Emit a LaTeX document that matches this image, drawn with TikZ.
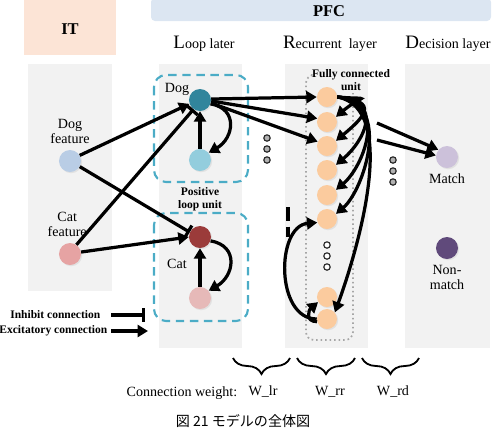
\documentclass[tikz,border=0pt]{standalone}
\usepackage{fontspec}
\setmainfont{Liberation Serif}
\newfontfamily\cjk{Noto Sans CJK JP}
\usetikzlibrary{arrows.meta, positioning, decorations.pathreplacing, shadows}

\definecolor{itpeach}{HTML}{FCE4D6}
\definecolor{pfcblue}{HTML}{DCE6F2}
\definecolor{panelgray}{HTML}{F2F2F2}
\definecolor{loopblue}{HTML}{4BACC6}
\definecolor{dogfeat}{HTML}{B9CDE5}
\definecolor{catfeat}{HTML}{E6A3A3}
\definecolor{dogdark}{HTML}{31859C}
\definecolor{doglight}{HTML}{93CDDD}
\definecolor{catdark}{HTML}{9B3B3A}
\definecolor{catlight}{HTML}{E6B9B8}
\definecolor{recpeach}{HTML}{FBCB9E}
\definecolor{matchc}{HTML}{CCC1DA}
\definecolor{nonmatchc}{HTML}{604A7B}

\begin{document}
\begin{tikzpicture}[
    x=0.025cm, y=0.025cm,
    font=\fontsize{10}{11}\selectfont,
    panel/.style={fill=panelgray, draw=none},
    loopbox/.style={draw=loopblue, line width=1.5pt, dash pattern=on 6pt off 4pt, rounded corners=3mm},
    unit/.style={circle, minimum size=5.5mm, inner sep=0pt, drop shadow={opacity=0.15, shadow xshift=0.3mm, shadow yshift=-0.3mm}},
    runit/.style={unit, minimum size=5mm, fill=recpeach},
    lbl/.style={align=center, inner sep=1pt},
    tag/.style={align=center, inner sep=1pt, font=\fontsize{8.2}{9}\selectfont\bfseries},
    title/.style={font=\fontsize{11.7}{13}\selectfont\bfseries},
    exc/.style={-{Triangle[length=2.6mm, width=3mm]}, line width=2.3pt},
    inh/.style={-{Bar[width=3.4mm]}, line width=2.3pt},
    dotf/.style={circle, draw=black!85, fill=gray!60, line width=0.8pt, inner sep=0pt, minimum size=1.6mm},
    doth/.style={circle, draw=black!85, fill=white, line width=0.8pt, inner sep=0pt, minimum size=1.6mm},
    wbrace/.style={decorate, decoration={brace, amplitude=4mm, mirror}, line width=1.3pt}
]
\useasboundingbox (0,0) rectangle (496,-430);

% Headers
\fill[itpeach] (24,0) rectangle (116,-55);
\node[title] (it) at (70,-29) {IT};
\fill[pfcblue, rounded corners=1mm] (151,2) rectangle (491,-21);
\node[title] (pfc) at (329,-11) {PFC};
\node (hloop) at (204,-44) {{\fontsize{13.5}{14}\selectfont L}oop later};
\node (hrec) at (330,-44) {{\fontsize{13.5}{14}\selectfont R}ecurrent\ \ layer};
\node (hdec) at (448,-44) {{\fontsize{13.5}{14}\selectfont D}ecision layer};

% Panels
\fill[panel] (28,-64) rectangle (112,-291);
\fill[panel] (159,-64) rectangle (242,-348);
\fill[panel] (285,-64) rectangle (368,-348);
\fill[panel] (405,-64) rectangle (490,-348);

% Loop units
\draw[loopbox] (154,-75) rectangle (248,-182);
\draw[loopbox] (154,-213) rectangle (248,-321);
\draw[gray!70, dotted, line width=1.2pt, rounded corners=2mm] (311,-75) -| (306,-340) -| (353,-93);

% IT units
\node[unit, fill=dogfeat] (df) at (70,-161) {};
\node[unit, fill=catfeat] (cf) at (70,-254) {};
\node[lbl, above=1mm of df] (dfl) {Dog\\feature};
\node[lbl, above=1mm of cf, xshift=-2] (cfl) {Cat\\feature};

% Loop layer
\node[unit, fill=dogdark] (dt) at (200,-100) {};
\node[unit, fill=doglight] (db) at (200,-160) {};
\node[unit, fill=catdark] (ct) at (200,-237) {};
\node[unit, fill=catlight] (cb) at (200,-298) {};
\node[lbl] (dogl) at (177,-89) {Dog};
\node[lbl] (catl) at (177,-264) {Cat};
\node[tag] (posl) at (200,-199) {Positive\\loop unit};

% Recurrent layer
\foreach \i/\y in {1/97, 2/122, 3/146, 4/170, 5/195, 6/219, 7/297, 8/319}
    \node[runit] (r\i) at (327,-\y) {};
\foreach \y in {245, 256, 267}
    \node[doth] at (327,-\y) {};
\node[tag] (fcu) at (351,-80) {Fully connected\\unit};

% Decision layer
\node[unit, fill=matchc] (m) at (447,-157) {};
\node[unit, fill=nonmatchc] (nm) at (447,-248) {};
\node[lbl, below=1mm of m] (ml) {Match};
\node[lbl, below=1mm of nm] (nml) {Non-\\match};

% Dots
\foreach \y in {138, 149, 160}
    \node[dotf] at (267,-\y) {};
\foreach \y in {160, 171, 182}
    \node[dotf] at (393,-\y) {};

% IT -> loop
\draw[exc] (df.30) -- (dt.-160);
\draw[inh] (df.-30) -- (ct.155);
\draw[inh] (cf.55) -- (dt.-125);
\draw[exc] (cf.10) -- (ct.west);

% Loops
\draw[exc] (db) -- (dt);
\draw[exc] (dt.-20) to[out=-10, in=30, looseness=1.5] (db.40);
\draw[exc] (cb) -- (ct);
\draw[exc] (ct.-20) to[out=-10, in=30, looseness=1.5] (cb.40);

% Loop -> recurrent
\draw[exc] (dt.5) -- (r1.180);
\draw[exc] (dt.-5) -- (r2.160);
\draw[exc] (dt.-15) -- (r3.155);

% Recurrent connections
\foreach \k/\d in {2/0.9, 3/1.1, 4/1.2, 5/1.3, 6/1.4}
    \draw[exc] (r1.east) to[out=-5, in=40, out distance=\d cm, in distance=0.9cm] (r\k.30);
\draw[exc] (r1.east) to[out=-10, in=70, out distance=1.6cm, in distance=1.6cm] (r8.40);
\draw[exc] (r8.west) to[out=180, in=185, looseness=1.1] (r6.200);
\draw[exc] (r8.-165) to[out=180, in=-140, looseness=1.6] (r7.-150);
\coordinate (dsa) at (288,-207);
\coordinate (dsb) at (288,-237);
\draw[line width=2.3pt, dash pattern=on 10pt off 4pt] (dsa) -- (dsb);

% Recurrent -> decision
\coordinate (rd1) at (377,-123);
\coordinate (rd2) at (377,-140);
\draw[exc] (rd1) -- (m.140);
\draw[exc] (rd2) -- (m.172);

% Legend
\node[tag, anchor=east] (linh) at (102,-315) {Inhibit connection};
\node[tag, anchor=east] (lexc) at (109,-331) {Excitatory connection};
\coordinate (inha) at (111,-315);
\coordinate (inhb) at (145,-315);
\coordinate (exca) at (111,-331);
\coordinate (excb) at (148,-331);
\draw[inh] (inha) -- (inhb);
\draw[exc] (exca) -- (excb);

% Weights
\draw[wbrace] (233,-358) -- (290,-358);
\draw[wbrace] (297,-358) -- (355,-358);
\draw[wbrace] (362,-358) -- (419,-358);
\node (cw) at (182,-393) {Connection weight:};
\node (wlr) at (263,-392) {W\_lr};
\node (wrr) at (330,-392) {W\_rr};
\node (wrd) at (393,-392) {W\_rd};

% Caption
\node[anchor=south, inner sep=0pt, font=\cjk\fontsize{10}{11}\selectfont] (cap) at (243,-428) {図 21 モデルの全体図};

\end{tikzpicture}
\end{document}
